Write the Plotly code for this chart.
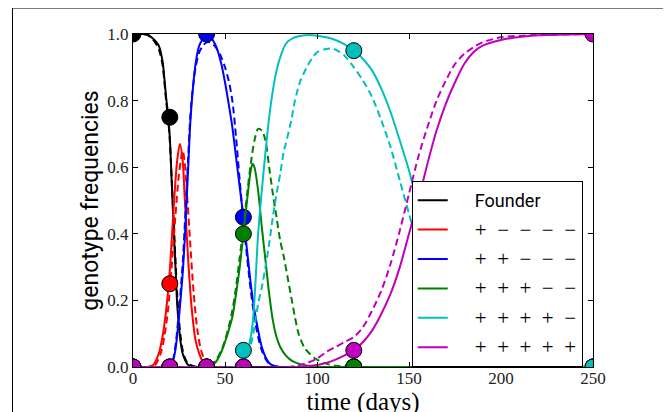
import plotly.graph_objects as go

# ---------------- data ----------------
founder_t = [0, 5, 8, 10, 12, 14, 16, 17, 18, 19, 20, 21, 22, 23, 24, 25, 26, 27, 28, 30, 33, 36, 250]
founder_solid = [1, 1, 0.998, 0.99, 0.98, 0.965, 0.92, 0.87, 0.81, 0.76, 0.69, 0.56, 0.43, 0.31, 0.19, 0.12, 0.07, 0.04, 0.025, 0.006, 0.001, 0, 0]
founder_dashed = [1, 1, 0.997, 0.988, 0.975, 0.955, 0.91, 0.86, 0.8, 0.75, 0.68, 0.57, 0.45, 0.33, 0.22, 0.14, 0.085, 0.05, 0.03, 0.01, 0.002, 0, 0]

red_t = [0, 8, 11, 14, 16, 18, 20, 22, 24, 25.5, 27, 28, 30, 32, 34, 36, 38, 40, 45, 250]
red_solid = [0, 0, 0.006, 0.04, 0.09, 0.17, 0.29, 0.47, 0.62, 0.67, 0.62, 0.52, 0.32, 0.17, 0.08, 0.04, 0.015, 0.005, 0, 0]
red_dashed_t = [0, 8, 12, 15, 17, 19, 21, 23, 25, 27, 28, 29, 31, 33, 35, 37, 39, 41, 45, 250]
red_dashed = [0, 0, 0.006, 0.04, 0.09, 0.17, 0.3, 0.45, 0.58, 0.65, 0.62, 0.55, 0.38, 0.22, 0.11, 0.05, 0.02, 0.005, 0, 0]

blue_t = [0, 20, 21, 23, 25, 27, 28, 29, 30, 31, 32, 34, 36, 38, 40, 42, 45, 48, 50, 52, 54, 56, 58, 60, 62, 64, 66, 68, 70, 72, 74, 76, 80, 250]
blue_solid = [0, 0, 0.005, 0.05, 0.15, 0.28, 0.37, 0.48, 0.6, 0.72, 0.8, 0.91, 0.965, 0.985, 0.995, 0.99, 0.965, 0.91, 0.855, 0.79, 0.72, 0.63, 0.54, 0.45, 0.35, 0.25, 0.17, 0.11, 0.06, 0.03, 0.012, 0.005, 0, 0]
blue_dashed = [0, 0, 0.006, 0.06, 0.17, 0.31, 0.41, 0.52, 0.63, 0.74, 0.81, 0.9, 0.945, 0.965, 0.975, 0.975, 0.96, 0.93, 0.9, 0.86, 0.8, 0.69, 0.56, 0.44, 0.33, 0.23, 0.15, 0.09, 0.05, 0.025, 0.01, 0.004, 0, 0]

green_t = [0, 40, 42, 45, 48, 50, 52, 54, 56, 58, 60, 62, 64, 65, 66, 68, 70, 72, 74, 76, 78, 80, 83, 86, 90, 95, 100, 110, 250]
green_solid = [0, 0, 0.003, 0.015, 0.045, 0.075, 0.11, 0.15, 0.22, 0.3, 0.4, 0.5, 0.59, 0.61, 0.6, 0.53, 0.42, 0.32, 0.22, 0.14, 0.09, 0.06, 0.035, 0.02, 0.01, 0.004, 0.001, 0, 0]
green_dashed_t = [0, 40, 42, 45, 48, 50, 52, 54, 56, 58, 60, 62, 64, 66, 68, 70, 72, 74, 76, 78, 80, 82, 84, 86, 88, 90, 93, 96, 100, 105, 110, 120, 250]
green_dashed = [0, 0, 0.004, 0.02, 0.05, 0.08, 0.12, 0.17, 0.24, 0.33, 0.42, 0.52, 0.61, 0.68, 0.715, 0.71, 0.68, 0.6, 0.52, 0.45, 0.38, 0.33, 0.27, 0.21, 0.15, 0.1, 0.06, 0.04, 0.022, 0.01, 0.004, 0, 0]

cyan_t = [0, 55, 58, 60, 62, 64, 65, 66, 67, 68, 70, 72, 74, 76, 78, 80, 83, 86, 90, 95, 100, 105, 110, 115, 120, 125, 130, 135, 140, 145, 150, 155, 160, 165, 170, 175, 180, 190, 200, 210, 225, 250]
cyan_solid = [0, 0, 0.005, 0.015, 0.04, 0.09, 0.13, 0.2, 0.3, 0.4, 0.53, 0.645, 0.75, 0.83, 0.89, 0.93, 0.97, 0.985, 0.993, 0.997, 0.995, 0.99, 0.982, 0.969, 0.952, 0.925, 0.89, 0.835, 0.765, 0.68, 0.59, 0.48, 0.37, 0.27, 0.19, 0.13, 0.08, 0.03, 0.015, 0.008, 0.003, 0.001]
cyan_dashed_t = [0, 55, 60, 62, 65, 68, 70, 72, 74, 76, 78, 80, 82, 83, 86, 88, 91, 94, 97, 100, 105, 108, 110, 115, 120, 125, 130, 135, 140, 145, 150, 155, 160, 165, 170, 180, 190, 200, 220, 250]
cyan_dashed = [0, 0, 0.01, 0.03, 0.09, 0.19, 0.24, 0.3, 0.37, 0.45, 0.52, 0.58, 0.65, 0.67, 0.74, 0.8, 0.86, 0.895, 0.925, 0.945, 0.955, 0.956, 0.953, 0.935, 0.9, 0.86, 0.81, 0.74, 0.66, 0.56, 0.46, 0.36, 0.27, 0.19, 0.13, 0.06, 0.025, 0.01, 0.003, 0.001]

magenta_t = [0, 90, 95, 100, 105, 110, 115, 120, 125, 130, 135, 140, 145, 150, 155, 160, 165, 170, 175, 180, 185, 190, 200, 210, 220, 250]
magenta_solid = [0, 0, 0.003, 0.006, 0.012, 0.022, 0.035, 0.05, 0.075, 0.11, 0.16, 0.22, 0.3, 0.4, 0.5, 0.61, 0.71, 0.79, 0.855, 0.91, 0.945, 0.965, 0.982, 0.991, 0.996, 1.0]
magenta_dashed_t = [0, 85, 90, 95, 100, 105, 110, 115, 120, 125, 130, 135, 140, 145, 150, 155, 160, 165, 170, 175, 180, 185, 190, 200, 210, 250]
magenta_dashed = [0, 0, 0.005, 0.013, 0.025, 0.045, 0.06, 0.075, 0.09, 0.12, 0.17, 0.23, 0.31, 0.41, 0.52, 0.63, 0.72, 0.8, 0.86, 0.91, 0.94, 0.96, 0.975, 0.99, 0.995, 1.0]

obs_t = [0, 20, 40, 60, 120, 250]
founder_obs = [1.0, 0.75, 0, 0, 0, 0]
red_obs = [0, 0.25, 0, 0, 0, 0]
blue_obs = [0, 0, 1.0, 0.45, 0, 0]
green_obs = [0, 0, 0, 0.40, 0, 0]
cyan_obs = [0, 0, 0, 0.05, 0.95, 0]
magenta_obs = [0, 0, 0, 0, 0.05, 1.0]

names = ["Founder", "+\u2002\u2212\u2002\u2212\u2002\u2212\u2002\u2212", "+\u2002+\u2002\u2212\u2002\u2212\u2002\u2212",
         "+\u2002+\u2002+\u2002\u2212\u2002\u2212", "+\u2002+\u2002+\u2002+\u2002\u2212", "+\u2002+\u2002+\u2002+\u2002+"]
colors = ["#000000", "#FF0000", "#0000FF", "#008000", "#00BFBF", "#BF00BF"]

series = [
    (founder_t, founder_solid, founder_t, founder_dashed, founder_obs),
    (red_t, red_solid, red_dashed_t, red_dashed, red_obs),
    (blue_t, blue_solid, blue_t, blue_dashed, blue_obs),
    (green_t, green_solid, green_dashed_t, green_dashed, green_obs),
    (cyan_t, cyan_solid, cyan_dashed_t, cyan_dashed, cyan_obs),
    (magenta_t, magenta_solid, magenta_dashed_t, magenta_dashed, magenta_obs),
]

SANS = "Roboto"
SERIF = "Liberation Serif"

fig = go.Figure()
for i, (ts, ys, td, yd, yo) in enumerate(series):
    c = colors[i]
    if i == 0:
        nm = "\u2003\u2009" + names[i]
    else:
        nm = '\u2003\u2009<span style="font-family:%s;font-size:21px">%s</span>' % (SERIF, names[i])
    fig.add_trace(go.Scatter(x=ts, y=ys, mode="lines", name=nm, legendgroup="g%d" % i,
                             line=dict(color=c, width=2, shape="spline", smoothing=0.8)))
    fig.add_trace(go.Scatter(x=td, y=yd, mode="lines", showlegend=False, legendgroup="g%d" % i,
                             line=dict(color=c, width=2, dash="7px,4px", shape="spline", smoothing=0.8)))
    fig.add_trace(go.Scatter(x=obs_t, y=yo, mode="markers", showlegend=False, legendgroup="g%d" % i,
                             marker=dict(color=c, size=16, line=dict(color="black", width=1)),
                             cliponaxis=True))

axis_common = dict(showline=True, linecolor="black", linewidth=1, mirror="allticks",
                   ticks="inside", ticklen=5, tickcolor="black", showgrid=False, zeroline=False,
                   tickfont=dict(family=SERIF, size=17, color="#222"))

fig.update_xaxes(range=[0, 250], tickvals=[0, 50, 100, 150, 200, 250], ticktext=["0", "50", "100", "150", "200", "250"],
                 ticklabelstandoff=-4,
                 title=dict(text="time (days)", font=dict(family=SERIF, size=25, color="black"), standoff=0),
                 **axis_common)
fig.update_yaxes(range=[0, 1], tickvals=[0, 0.2, 0.4, 0.6, 0.8, 1.0], ticktext=["0.0", "0.2", "0.4", "0.6", "0.8", "1.0"],
                 title=dict(text="genotype frequencies", font=dict(family=SANS, size=23, color="black"), standoff=2),
                 **axis_common)

# the page body adds an 8px offset, so margins are shifted accordingly
fig.update_layout(
    width=671, height=412,
    margin=dict(l=125, r=86, t=26, b=53, autoexpand=False),
    paper_bgcolor="white", plot_bgcolor="white",
    legend=dict(x=0.606, y=0.5586, xanchor="left", yanchor="top",
                bgcolor="white", bordercolor="black", borderwidth=1,
                font=dict(family=SANS, size=18, color="black"), tracegroupgap=3,
                itemwidth=30),
    shapes=[dict(type="rect", xref="paper", yref="paper", x0=-0.262, x1=1.165, y0=-0.3, y1=1.078,
                 line=dict(color="black", width=1), fillcolor="rgba(0,0,0,0)", layer="below")],
)

fig.write_html("out.html")
